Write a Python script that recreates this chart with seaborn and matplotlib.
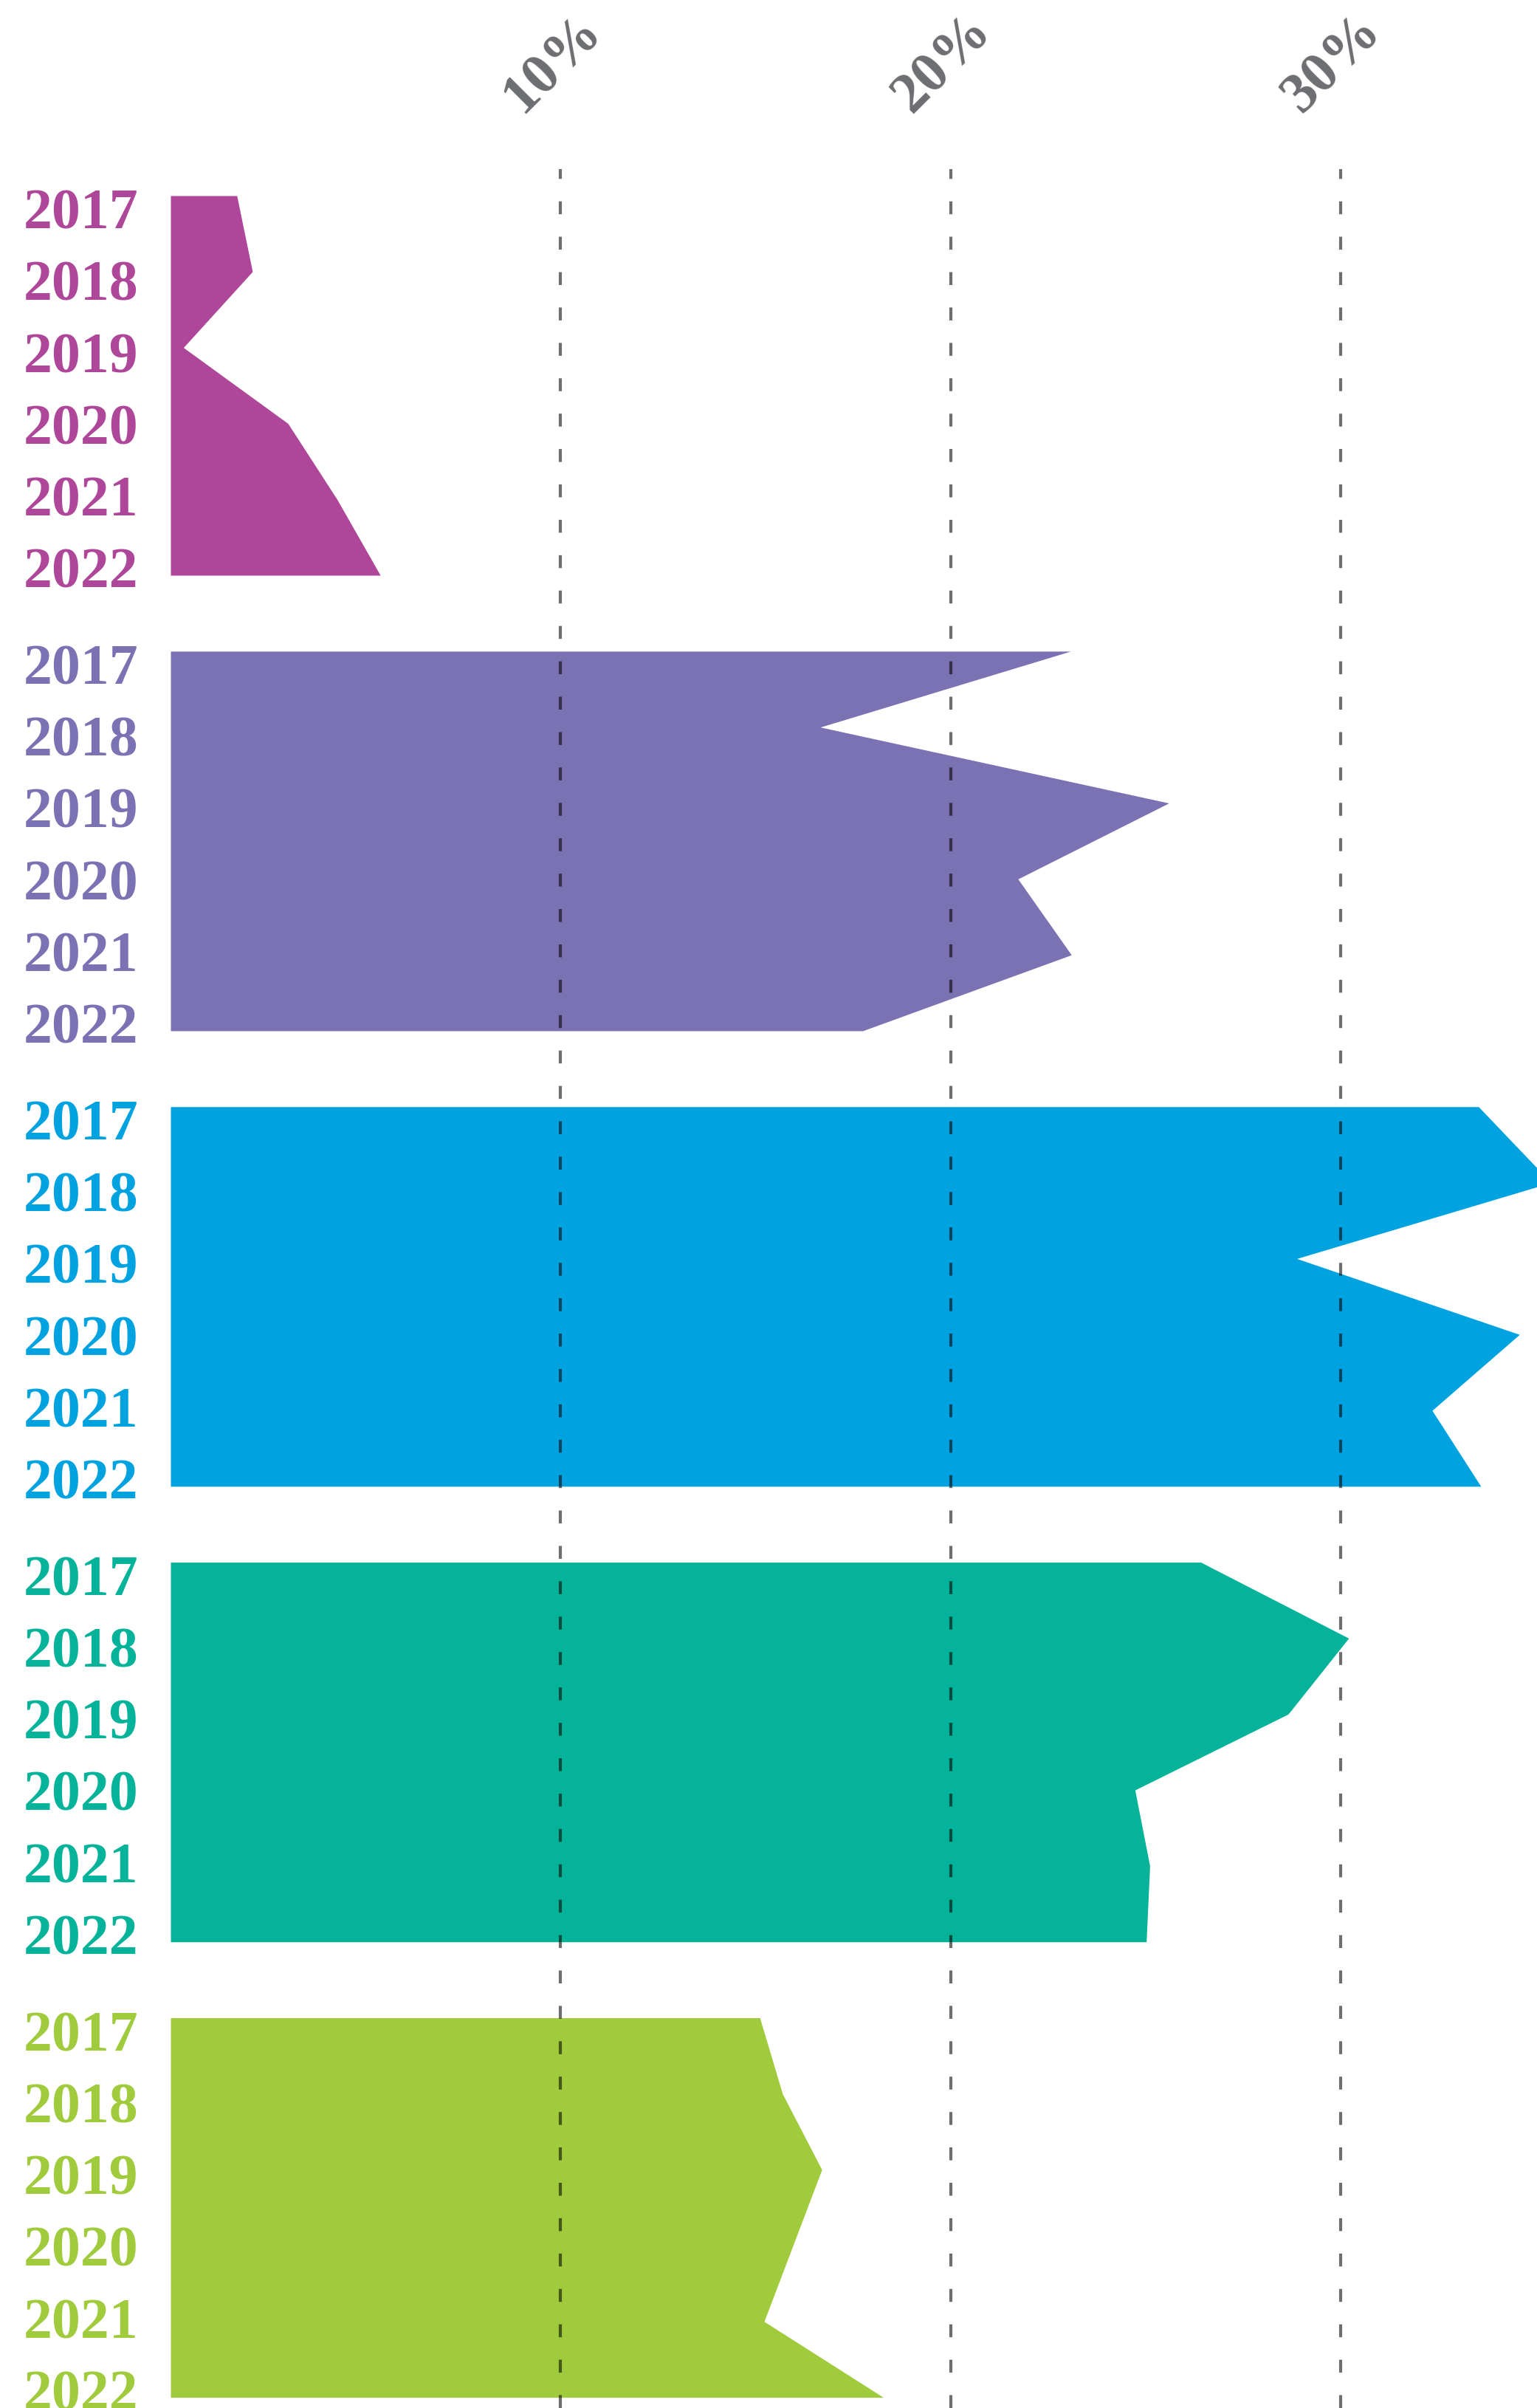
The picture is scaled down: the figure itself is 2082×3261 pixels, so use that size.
import numpy as np
import matplotlib
matplotlib.use("Agg")
import matplotlib.pyplot as plt
import seaborn as sns

# data (share in %)
years = ["2017", "2018", "2019", "2020", "2021", "2022"]
group_a = [1.70, 2.10, 0.33, 3.01, 4.27, 5.38]
group_b = [23.08, 16.66, 25.60, 21.73, 23.10, 17.75]
group_c = [33.54, 35.40, 28.88, 34.59, 32.35, 33.60]
group_d = [26.42, 30.21, 28.66, 24.73, 25.11, 25.02]
group_e = [15.11, 15.69, 16.70, 15.96, 15.22, 18.28]
groups = [group_a, group_b, group_c, group_d, group_e]
colors = ["#AE4799", "#7B72B3", "#00A3E0", "#05B39A", "#A0CB3C"]
ticks = [10, 20, 30]
tick_labels = ["10%", "20%", "30%"]

sns.set_style("white")
plt.rcParams["font.family"] = ["Liberation Serif", "DejaVu Serif"]

W, H, DPI = 2082, 3262, 200
fig = plt.figure(figsize=(W / DPI, H / DPI), dpi=DPI)
ax = fig.add_axes([231 / W, 0, (W - 231) / W, (H - 230) / H])

# each group spans 5 units, with one empty unit before the next group
step = len(years)
for g, (vals, col) in enumerate(zip(groups, colors)):
    y = g * step + np.arange(len(years))
    ax.fill_betweenx(y, 0, vals, color=col, lw=0, zorder=1)
    # year labels, slightly compressed relative to the shape vertices
    for i, yr in enumerate(years):
        ax.annotate(yr, xy=(0, g * step + 0.165 + i * 0.9455),
                    xytext=(-15.7, -9.6), textcoords="offset points",
                    ha="right", va="baseline", fontsize=28,
                    fontweight="bold", color=col, annotation_clip=False)

for t, lab in zip(ticks, tick_labels):
    ax.axvline(t, color="black", alpha=0.57, lw=1.5, dashes=(4.2, 7.3), zorder=3)
    ax.annotate(lab, xy=(t, 1.0472), xycoords=("data", "axes fraction"),
                xytext=(-3.6, 0), textcoords="offset points",
                rotation=45, rotation_mode="anchor", ha="center", va="center",
                fontsize=28, fontweight="bold", color="#6D6E71",
                annotation_clip=False)

ax.set_xlim(0, 35.04)
ax.set_ylim(29.14, -0.35)
ax.set_xticks([])
ax.set_yticks([])
sns.despine(ax=ax, left=True, bottom=True)

fig.savefig("out.png", dpi=DPI)
